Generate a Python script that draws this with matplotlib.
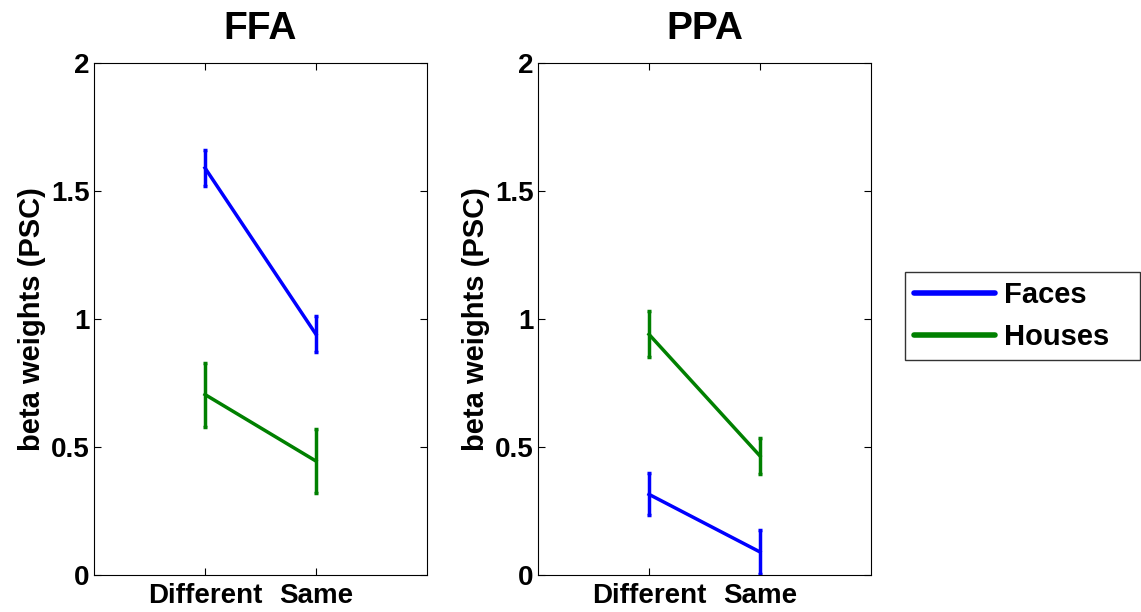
import matplotlib
matplotlib.use("Agg")
import matplotlib.pyplot as plt
from matplotlib.lines import Line2D

plt.rcParams['font.family'] = ['Liberation Sans', 'DejaVu Sans']
plt.rcParams['font.weight'] = 'bold'

conditions = ["Different", "Same"]
x_pos = [1, 2]

ffa_faces = [1.59, 0.94]
ffa_faces_err = [0.07, 0.07]
ffa_houses = [0.705, 0.445]
ffa_houses_err = [0.125, 0.125]

ppa_faces = [0.315, 0.09]
ppa_faces_err = [0.082, 0.085]
ppa_houses = [0.94, 0.465]
ppa_houses_err = [0.09, 0.07]

titles = ["FFA", "PPA"]
series_names = ["Faces", "Houses"]
colors = ["#0000ff", "#008000"]

fig = plt.figure(figsize=(11.41, 6.12), dpi=100)
ax1 = fig.add_axes([94/1141, 37/612, 333/1141, 512/612])
ax2 = fig.add_axes([538/1141, 37/612, 333/1141, 512/612])

data = [
    (ax1, ffa_faces, ffa_faces_err, ffa_houses, ffa_houses_err, titles[0]),
    (ax2, ppa_faces, ppa_faces_err, ppa_houses, ppa_houses_err, titles[1]),
]

for ax, fv, fe, hv, he, t in data:
    for vals, errs, c in ((fv, fe, colors[0]), (hv, he, colors[1])):
        ax.errorbar(x_pos, vals, yerr=errs, color=c, lw=2.5, elinewidth=2.5,
                    capsize=1.2, capthick=2.5)
    ax.set_xlim(0, 3)
    ax.set_ylim(0, 2)
    ax.set_xticks(x_pos)
    ax.set_xticklabels(conditions, fontsize=20, fontweight='bold')
    ax.set_yticks([0, 0.5, 1, 1.5, 2])
    ax.set_yticklabels(["0", "0.5", "1", "1.5", "2"], fontsize=20, fontweight='bold')
    ax.tick_params(direction='in', length=5, width=0.8, top=True, right=True, pad=3)
    ax.tick_params(axis='x', pad=6)
    ax.set_ylabel("beta weights (PSC)", fontsize=21, fontweight='bold', labelpad=4)
    ax.set_title(t, fontsize=28, fontweight='bold', pad=17)
    for s in ax.spines.values():
        s.set_linewidth(0.8)

handles = [Line2D([], [], color=c, lw=4, solid_capstyle='round') for c in colors]
leg = fig.legend(handles, series_names, loc='upper left',
                 bbox_to_anchor=(905/1141, 1 - 355/612, 235/1141, 83/612),
                 mode='expand', borderaxespad=0, fontsize=21,
                 frameon=True, fancybox=False, edgecolor='black', handlelength=2.8,
                 borderpad=0.3, labelspacing=0.5, handletextpad=0.3)
leg.get_frame().set_linewidth(1.0)
for txt in leg.get_texts():
    txt.set_fontweight('bold')

fig.savefig("out.png", dpi=100)
